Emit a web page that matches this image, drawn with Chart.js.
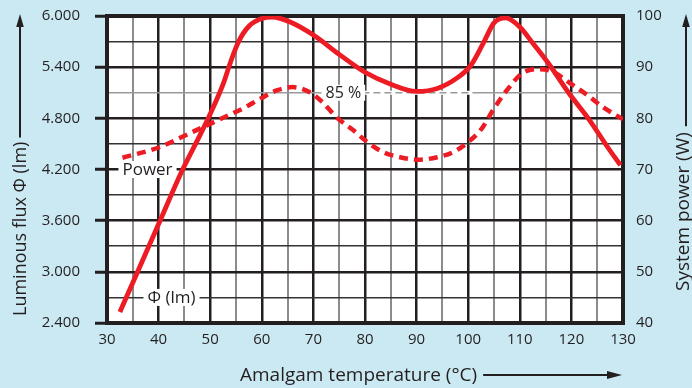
<!DOCTYPE html>
<html>
<head>
<meta charset="utf-8">
<script src="https://cdn.jsdelivr.net/npm/chart.js@4.4.1/dist/chart.umd.min.js"></script>
<style>
  html, body { margin: 0; padding: 0; background: #cbe9f2; }
  canvas { display: block; }
</style>
</head>
<body>
<canvas id="chart" width="692" height="388"></canvas>
<script>
const tempFlux = [32.5, 36, 40, 44.5, 48, 50, 52.5, 54, 55.5, 57.5, 60, 62, 65.5, 70, 75, 80, 85, 90, 94, 98, 100.5, 103, 105, 107.3, 110, 112.5, 115.5, 119.5, 123.5, 127, 129.5];
const flux = [2530, 3010, 3560, 4180, 4600, 4850, 5200, 5470, 5700, 5880, 5970, 5988, 5930, 5777, 5550, 5340, 5200, 5115, 5150, 5280, 5420, 5690, 5920, 5978, 5871, 5683, 5449, 5097, 4780, 4464, 4250];

// Temperaturas (°C) y potencia del sistema (W) de la curva discontinua
const tempPower = [33, 40, 46.5, 52.5, 56.5, 60, 63, 66, 69.3, 71.7, 74.6, 77.7, 80.4, 83.5, 86.8, 90.3, 94, 97.1, 99.8, 102.7, 104.8, 107.5, 110.6, 113.9, 116.4, 119.7, 123, 126.1, 130];
const power = [72.3, 74.3, 77.3, 80.1, 82, 84, 85.5, 86.1, 85.1, 83.2, 80.1, 77.7, 75.4, 73.4, 72.4, 71.9, 72.4, 73.4, 75.2, 78.1, 81.6, 85.5, 88.9, 89.6, 89.1, 86.9, 84.6, 82.2, 79.8];

// Textos
const xTitle = "Amalgam temperature (°C)";
const yTitle = "Luminous flux Φ (lm)";
const y1Title = "System power (W)";
const powerLabel = "Power";
const fluxLabel = "Φ (lm)";
const pctLabel = "85 %";
const pctValue = 5100;

const FONT = "'Open Sans', 'DejaVu Sans', sans-serif";
const DARK = "#231f20";
const RED = "#ed1c24";

// Área de trazado deseada (px)
const AREA = { left: 107, top: 16, right: 623, bottom: 323 };
const fit = { x: 65, y: 107, y1: 69 };

const toXY = (xs, ys) => xs.map((x, i) => ({ x, y: ys[i] }));

/**
 * Dibuja una flecha simple (línea + punta rellena)
 */
const arrow = (ctx, x1, y1, x2, y2, head = 13, half = 4) => {
  const a = Math.atan2(y2 - y1, x2 - x1);
  ctx.beginPath();
  ctx.moveTo(x1, y1);
  ctx.lineTo(x2 - Math.cos(a) * head * 0.8, y2 - Math.sin(a) * head * 0.8);
  ctx.stroke();
  ctx.beginPath();
  ctx.moveTo(x2, y2);
  ctx.lineTo(x2 - Math.cos(a) * head - Math.sin(a) * half, y2 - Math.sin(a) * head + Math.cos(a) * half);
  ctx.lineTo(x2 - Math.cos(a) * head + Math.sin(a) * half, y2 - Math.sin(a) * head - Math.cos(a) * half);
  ctx.closePath();
  ctx.fill();
};

// Etiqueta con fondo blanco sobre la rejilla
const boxLabel = (ctx, text, cx, cy, size, padX = 4) => {
  ctx.font = `${size}px ${FONT}`;
  const w = ctx.measureText(text).width;
  ctx.fillStyle = "#fff";
  ctx.fillRect(cx - w / 2 - padX, cy - size / 2, w + padX * 2, size);
  ctx.fillStyle = DARK;
  ctx.textAlign = "center";
  ctx.textBaseline = "middle";
  ctx.fillText(text, cx, cy + 1);
};

const decor = {
  id: "decor",
  beforeDraw(chart) {
    const { ctx, chartArea: a } = chart;
    ctx.save();
    ctx.fillStyle = "#cbe9f2";
    ctx.fillRect(0, 0, chart.width, chart.height);
    ctx.fillStyle = "#fff";
    ctx.fillRect(a.left, a.top, a.right - a.left, a.bottom - a.top);
    ctx.restore();
  },
  beforeDatasetsDraw(chart) {
    const { ctx, chartArea: a, scales } = chart;
    const { x, y } = scales;
    ctx.save();

    // línea del 85 % (discontinua a la derecha de la etiqueta)
    const py = y.getPixelForValue(pctValue);
    const xa = x.getPixelForValue(79.5);
    const xb = x.getPixelForValue(101.5);
    ctx.fillStyle = "#fff";
    ctx.fillRect(xa, py - 2, xb - xa, 4);
    ctx.strokeStyle = "#9a9a9a";
    ctx.lineWidth = 1.6;
    ctx.setLineDash([7, 4]);
    ctx.beginPath();
    ctx.moveTo(xa, py);
    ctx.lineTo(xb, py);
    ctx.stroke();
    ctx.setLineDash([]);

    // marco del área de trazado
    ctx.strokeStyle = DARK;
    ctx.lineWidth = 4;
    ctx.strokeRect(a.left, a.top, a.right - a.left, a.bottom - a.top);

    // etiquetas dentro del gráfico
    boxLabel(ctx, powerLabel, x.getPixelForValue(37.85), y.getPixelForValue(4200), 17);
    boxLabel(ctx, fluxLabel, x.getPixelForValue(42.5), y.getPixelForValue(2700), 17);
    boxLabel(ctx, pctLabel, x.getPixelForValue(75.8), py, 16, 4);
    ctx.restore();
  },
  afterDraw(chart) {
    const { ctx } = chart;
    ctx.save();
    ctx.fillStyle = DARK;
    ctx.strokeStyle = DARK;
    ctx.lineWidth = 2;
    ctx.textBaseline = "middle";
    ctx.textAlign = "left";

    // título eje X + flecha
    ctx.font = `19px ${FONT}`;
    ctx.fillText(xTitle, 240, 376);
    const wx = ctx.measureText(xTitle).width;
    arrow(ctx, 240 + wx + 6, 375, 622, 375, 15, 4);

    // título eje izquierdo (de abajo hacia arriba) + flecha
    ctx.font = `18px ${FONT}`;
    const wy = ctx.measureText(yTitle).width;
    ctx.save();
    ctx.translate(21, 316);
    ctx.rotate(-Math.PI / 2);
    ctx.fillText(yTitle, 0, 0);
    ctx.restore();
    arrow(ctx, 20, 316 - wy - 4, 20, 14, 13, 3.8);

    // título eje derecho + flecha
    ctx.font = `19px ${FONT}`;
    const wr = ctx.measureText(y1Title).width;
    ctx.save();
    ctx.translate(684, 291);
    ctx.rotate(-Math.PI / 2);
    ctx.fillText(y1Title, 0, 0);
    ctx.restore();
    arrow(ctx, 686, 291 - wr - 6, 686, 14, 13, 3.8);
    ctx.restore();
  },
};

const chart = new Chart(document.getElementById("chart"), {
  type: "line",
  data: {
    datasets: [
      {
        label: "Φ (lm)",
        data: toXY(tempFlux, flux),
        yAxisID: "y",
        borderColor: RED,
        borderWidth: 4.8,
        pointRadius: 0,
        cubicInterpolationMode: "monotone",
      },
      {
        label: "Power",
        data: toXY(tempPower, power),
        yAxisID: "y1",
        borderColor: RED,
        borderWidth: 4.5,
        borderDash: [9, 6],
        pointRadius: 0,
        cubicInterpolationMode: "monotone",
      },
    ],
  },
  options: {
    responsive: false,
    animation: false,
    events: [],
    layout: { padding: { top: AREA.top, left: 0, right: 0, bottom: 0 } },
    plugins: { legend: { display: false }, tooltip: { enabled: false } },
    scales: {
      x: {
        type: "linear",
        min: 30,
        max: 130,
        afterFit: (s) => { s.height = fit.x; },
        ticks: {
          stepSize: 5,
          autoSkip: false,
          maxRotation: 0,
          padding: 8,
          color: DARK,
          font: { family: FONT, size: 15 },
          callback: (v) => (v % 10 === 0 ? String(v) : ""),
        },
        grid: {
          drawTicks: false,
          color: (c) => (c.tick.value % 10 === 0 ? DARK : "#8c8c8c"),
          lineWidth: (c) => (c.tick.value % 10 === 0 ? 2.5 : 2),
        },
        border: { display: false },
      },
      y: {
        position: "left",
        min: 2400,
        max: 6000,
        afterFit: (s) => { s.width = fit.y; },
        ticks: {
          stepSize: 300,
          autoSkip: false,
          padding: 15,
          color: DARK,
          font: { family: FONT, size: 15, lineHeight: 0.05 },
          callback: (v) => (v % 600 === 0 ? (v / 1000).toFixed(3) : ""),
        },
        grid: {
          tickLength: 12,
          tickWidth: 3,
          tickColor: (c) => (c.tick.value % 600 === 0 ? DARK : "rgba(0,0,0,0)"),
          color: (c) => (c.tick.value === pctValue ? "#9a9a9a" : c.tick.value % 600 === 0 ? DARK : "#333"),
          lineWidth: (c) => (c.tick.value % 600 === 0 ? 2.5 : 1.6),
        },
        border: { display: false },
      },
      y1: {
        position: "right",
        min: 40,
        max: 100,
        afterFit: (s) => { s.width = fit.y1; },
        ticks: {
          stepSize: 10,
          padding: 13,
          color: DARK,
          font: { family: FONT, size: 15, lineHeight: 0.05 },
        },
        grid: { drawOnChartArea: false, drawTicks: false },
        border: { display: false },
      },
    },
  },
  plugins: [decor],
});

// Ajusta márgenes hasta que el área de trazado coincida con la deseada
for (let i = 0; i < 3; i++) {
  const a = chart.chartArea;
  chart.options.layout.padding.top = Math.max(0, chart.options.layout.padding.top + AREA.top - a.top);
  fit.x += a.bottom - AREA.bottom;
  fit.y += AREA.left - a.left;
  fit.y1 += a.right - AREA.right;
  chart.update();
}
</script>
</body>
</html>
